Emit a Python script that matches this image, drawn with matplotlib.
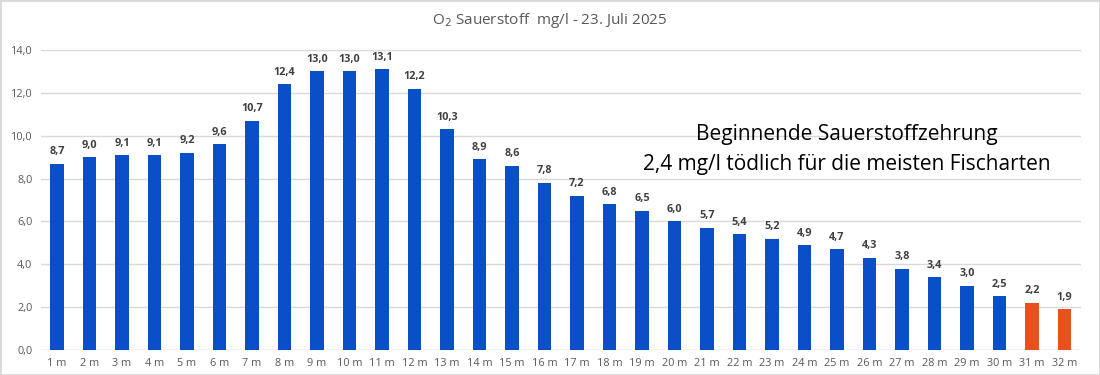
import matplotlib; matplotlib.use("Agg")
import matplotlib.pyplot as plt
from matplotlib.patches import Rectangle
import numpy as np

depths=[f"{i} m" for i in range(1,33)]
o2=[8.7,9.0,9.1,9.1,9.2,9.6,10.7,12.4,13.0,13.0,13.1,12.2,10.3,8.9,8.6,7.8,
    7.2,6.8,6.5,6.0,5.7,5.4,5.2,4.9,4.7,4.3,3.8,3.4,3.0,2.5,2.2,1.9]
critical=2.4
yticks=[0,2,4,6,8,10,12,14]

BLUE="#0A4FC8"; RED="#E8501E"; GREY="#595959"; GRID="#D9D9D9"
plt.rcParams.update({"font.family":["Open Sans","DejaVu Sans"]})

fig=plt.figure(figsize=(11,3.75),dpi=100)
ax=fig.add_axes([0.037,0.0667,0.9455,0.80])
x=np.arange(len(o2))
cols=[RED if v<critical else BLUE for v in o2]
ax.bar(x,o2,width=0.42,color=cols,zorder=2)
for xi,v in zip(x,o2):
    ax.text(xi,v+0.3,f"{v:.1f}".replace(".",","),ha="center",va="bottom",
            fontsize=7.8,fontweight="bold",color="#404040")
ax.set_xlim(-0.5,len(o2)-0.5); ax.set_ylim(0,14)
ax.set_yticks(yticks); ax.set_yticklabels([f"{t:.1f}".replace(".",",") for t in yticks],fontsize=7.8,color=GREY)
ax.set_xticks(x); ax.set_xticklabels(depths,fontsize=7.8,color=GREY)
ax.tick_params(length=0,pad=6)
ax.grid(axis="y",color=GRID,lw=1,zorder=0)
for sp in ax.spines.values(): sp.set_visible(False)
ax.axhline(0,color=GRID,lw=1,zorder=1)
ax.text(24.3,9.35,"Beginnende Sauerstoffzehrung\n2,4 mg/l tödlich für die meisten Fischarten",
        ha="center",va="center",fontsize=15,color="black",linespacing=1.6)
fig.text(0.5,0.945,"O$_2$ Sauerstoff  mg/l - 23. Juli 2025",ha="center",va="center",fontsize=11,color=GREY)
fig.patches.append(Rectangle((0,0),1,1,transform=fig.transFigure,fill=False,ec=GRID,lw=2))
fig.savefig("out.png",dpi=100)
